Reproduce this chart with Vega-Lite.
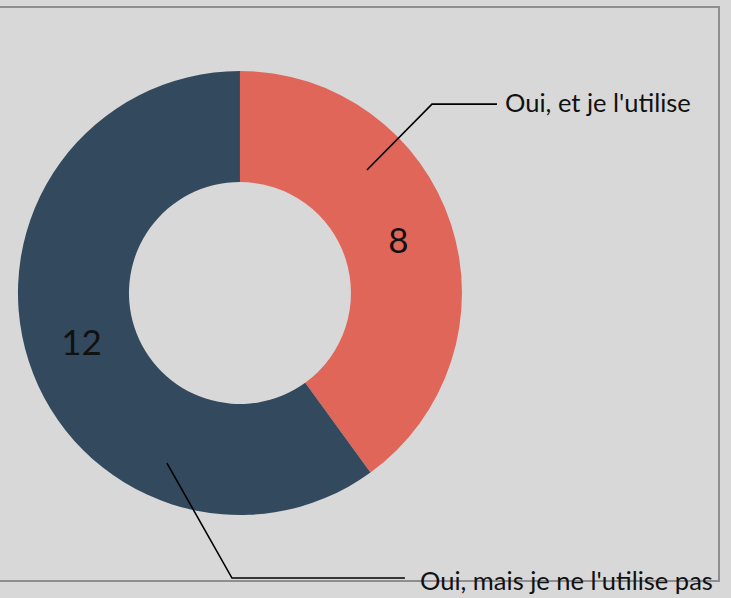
{
  "$schema": "https://vega.github.io/schema/vega-lite/v6.json",
  "width": 731,
  "height": 598,
  "autosize": {"type": "none"},
  "padding": 0,
  "background": "#d8d8d8",
  "config": {
    "view": {"stroke": null},
    "font": "Lato, Roboto, sans-serif"
  },
  "datasets": {
    "slices": [
      {"reponse": "Oui, et je l'utilise", "n": 8},
      {"reponse": "Oui, mais je ne l'utilise pas", "n": 12}
    ],
    "leaders": [
      {"reponse": "Oui, et je l'utilise", "step": 1, "px": 0.572, "py": 0.554},
      {"reponse": "Oui, et je l'utilise", "step": 2, "px": 0.865, "py": 0.851},
      {"reponse": "Oui, et je l'utilise", "step": 3, "px": 1.158, "py": 0.851},
      {"reponse": "Oui, mais je ne l'utilise pas", "step": 1, "px": -0.329, "py": -0.766},
      {"reponse": "Oui, mais je ne l'utilise pas", "step": 2, "px": -0.036, "py": -1.284},
      {"reponse": "Oui, mais je ne l'utilise pas", "step": 3, "px": 0.743, "py": -1.284}
    ],
    "labels": [
      {"reponse": "Oui, et je l'utilise", "px": 1.194, "py": 0.851},
      {"reponse": "Oui, mais je ne l'utilise pas", "px": 0.811, "py": -1.303}
    ],
    "frame": [
      {"part": "box", "step": 1, "px": -1.2, "py": 1.288},
      {"part": "box", "step": 2, "px": 2.158, "py": 1.288},
      {"part": "box", "step": 3, "px": 2.158, "py": -1.297},
      {"part": "box", "step": 4, "px": -1.2, "py": -1.297}
    ]
  },
  "layer": [
    {
      "data": {"name": "frame"},
      "mark": {"type": "line", "stroke": "#8e8e8e", "strokeWidth": 2, "clip": true},
      "encoding": {
        "x": {"field": "px", "type": "quantitative", "scale": {"domain": [-1.081, 2.212], "nice": false, "zero": false}, "axis": null},
        "y": {"field": "py", "type": "quantitative", "scale": {"domain": [-1.374, 1.32], "nice": false, "zero": false}, "axis": null},
        "detail": {"field": "part"},
        "order": {"field": "step"}
      }
    },
    {
      "data": {"name": "slices"},
      "mark": {"type": "arc", "outerRadius": 222, "innerRadius": 111},
      "encoding": {
        "x": {"datum": 0, "type": "quantitative"},
        "y": {"datum": 0, "type": "quantitative"},
        "theta": {"field": "n", "type": "quantitative", "stack": true},
        "color": {
          "field": "reponse",
          "type": "nominal",
          "scale": {"domain": ["Oui, et je l'utilise", "Oui, mais je ne l'utilise pas"], "range": ["#e0665a", "#33495e"]},
          "legend": null
        }
      }
    },
    {
      "data": {"name": "slices"},
      "mark": {"type": "text", "radius": 166.5, "fontSize": 35, "fill": "#111111", "align": "center", "baseline": "middle"},
      "encoding": {
        "x": {"datum": 0, "type": "quantitative"},
        "y": {"datum": 0, "type": "quantitative"},
        "theta": {"field": "n", "type": "quantitative", "stack": true},
        "detail": {"field": "reponse", "type": "nominal"},
        "text": {"field": "n", "type": "quantitative"}
      }
    },
    {
      "data": {"name": "leaders"},
      "mark": {"type": "line", "stroke": "#000000", "strokeWidth": 1.6},
      "encoding": {
        "x": {"field": "px", "type": "quantitative"},
        "y": {"field": "py", "type": "quantitative"},
        "detail": {"field": "reponse"},
        "order": {"field": "step"}
      }
    },
    {
      "data": {"name": "labels"},
      "mark": {"type": "text", "fontSize": 25.5, "fill": "#111111", "align": "left", "baseline": "middle"},
      "encoding": {
        "x": {"field": "px", "type": "quantitative"},
        "y": {"field": "py", "type": "quantitative"},
        "text": {"field": "reponse", "type": "nominal"}
      }
    }
  ]
}
